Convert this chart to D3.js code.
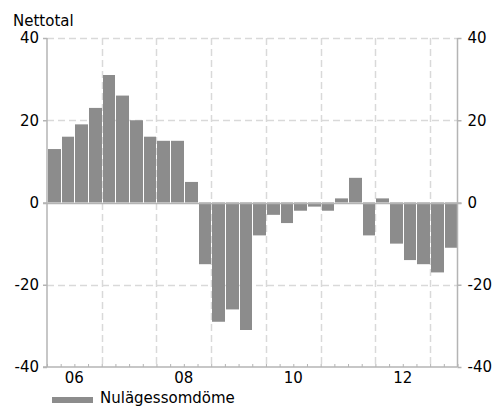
<!DOCTYPE html>
<html>
<head>
<meta charset="utf-8">
<script src="https://cdn.jsdelivr.net/npm/d3@7"></script>
<style>
  html, body { margin: 0; padding: 0; background: #ffffff; }
  svg { display: block; }
  text { font-family: "DejaVu Sans", Verdana, sans-serif; fill: #000; }
</style>
</head>
<body>
<svg id="chart" width="495" height="408"></svg>
<script>
// ---- data ----
const quarters = [
  "2006Q1","2006Q2","2006Q3","2006Q4",
  "2007Q1","2007Q2","2007Q3","2007Q4",
  "2008Q1","2008Q2","2008Q3","2008Q4",
  "2009Q1","2009Q2","2009Q3","2009Q4",
  "2010Q1","2010Q2","2010Q3","2010Q4",
  "2011Q1","2011Q2","2011Q3","2011Q4",
  "2012Q1","2012Q2","2012Q3","2012Q4",
  "2013Q1","2013Q2"
];
const values = [
  13, 16, 19, 23,
  31, 26, 20, 16,
  15, 15, 5, -15,
  -29, -26, -31, -8,
  -3, -5, -2, -1,
  -2, 1, 6, -8,
  1, -10, -14, -15,
  -17, -11
];
const yearLabels = ["06", "08", "10", "12"];
const yearLabelQuarterIndex = [0, 8, 16, 24];   // first quarter of each labelled year
const yearBoundaryIndex = [4, 8, 12, 16, 20, 24, 28];
const yTicks = [-40, -20, 0, 20, 40];
const yGrid = [40, 20, -20];
const seriesName = "Nulägessomdöme";
const yTitle = "Nettotal";

// ---- layout ----
const svg = d3.select("#chart");
const mLeft = 47, mRight = 457.5, mTop = 38, mBottom = 367;
const barColor = "#8c8c8c";
const axisColor = "#b4b4b4";
const gridColor = "#d9d9d9";

const x = d3.scaleLinear().domain([0, quarters.length]).range([mLeft, mRight]);
const y = d3.scaleLinear().domain([-40, 40]).range([mBottom, mTop]);
const fmt = d => String(d);   // plain hyphen-minus like the reference

// grid
const g = svg.append("g");
g.selectAll("line.hgrid").data(yGrid).join("line")
  .attr("x1", mLeft).attr("x2", mRight)
  .attr("y1", d => Math.round(y(d)) + 0.5).attr("y2", d => Math.round(y(d)) + 0.5)
  .attr("stroke", gridColor).attr("stroke-width", 1.5).attr("stroke-dasharray", "7,4");
g.selectAll("line.vgrid").data(yearBoundaryIndex).join("line")
  .attr("x1", d => Math.round(x(d)) + 0.5).attr("x2", d => Math.round(x(d)) + 0.5)
  .attr("y1", mTop).attr("y2", mBottom)
  .attr("stroke", gridColor).attr("stroke-width", 1.5).attr("stroke-dasharray", "7,4");

// bars
svg.append("g").selectAll("rect").data(values).join("rect")
  .attr("x", (d, i) => Math.round(x(i)) + 1)
  .attr("width", (d, i) => Math.round(x(i + 1)) - Math.round(x(i)) - 1)
  .attr("y", d => y(Math.max(0, d)))
  .attr("height", d => Math.abs(y(d) - y(0)))
  .attr("fill", barColor);

// zero line
svg.append("line")
  .attr("x1", mLeft - 4).attr("x2", mRight + 4)
  .attr("y1", Math.round(y(0)) + 0.5).attr("y2", Math.round(y(0)) + 0.5)
  .attr("stroke", axisColor).attr("stroke-width", 1.5);

// left axis
const yAxisL = d3.axisLeft(y).tickValues(yTicks).tickSize(4).tickPadding(4).tickFormat(fmt);
const gl = svg.append("g").attr("transform", `translate(${mLeft},0)`).call(yAxisL);
// right axis
const yAxisR = d3.axisRight(y).tickValues(yTicks).tickSize(4).tickPadding(6).tickFormat(fmt);
const gr = svg.append("g").attr("transform", `translate(${mRight},0)`).call(yAxisR);

[gl, gr].forEach(a => {
  a.select(".domain").attr("stroke", axisColor).attr("stroke-width", 1.5)
    .attr("d", `M0,${mTop}V${mBottom}`);
  a.selectAll(".tick line").attr("stroke", axisColor).attr("stroke-width", 1.5);
  a.selectAll(".tick text").attr("font-size", 15).attr("font-family", "DejaVu Sans").attr("fill", "#000");
});

// bottom axis (quarter minor ticks)
const xAxis = d3.axisBottom(x)
  .tickValues(d3.range(quarters.length + 1))
  .tickSize(-3).tickFormat("");
const gb = svg.append("g").attr("transform", `translate(0,${mBottom})`).call(xAxis);
gb.select(".domain").attr("stroke", axisColor).attr("stroke-width", 1.5)
  .attr("d", `M${mLeft - 4},0H${mRight}`);
gb.selectAll(".tick line").attr("stroke", axisColor).attr("stroke-width", 1);

// year labels
svg.append("g").selectAll("text").data(yearLabels).join("text")
  .attr("x", (d, i) => x(yearLabelQuarterIndex[i] + 2))
  .attr("y", mBottom + 16)
  .attr("text-anchor", "middle")
  .attr("font-size", 15)
  .text(d => d);

// y title
svg.append("text")
  .attr("x", 13).attr("y", 26)
  .attr("font-family", "Liberation Sans, Arial, sans-serif")
  .attr("font-size", 15)
  .text(yTitle);

// legend
svg.append("rect").attr("x", 52).attr("y", 397).attr("width", 41).attr("height", 6).attr("fill", barColor);
svg.append("text").attr("x", 100).attr("y", 403).attr("font-size", 15).text(seriesName);
</script>
</body>
</html>
